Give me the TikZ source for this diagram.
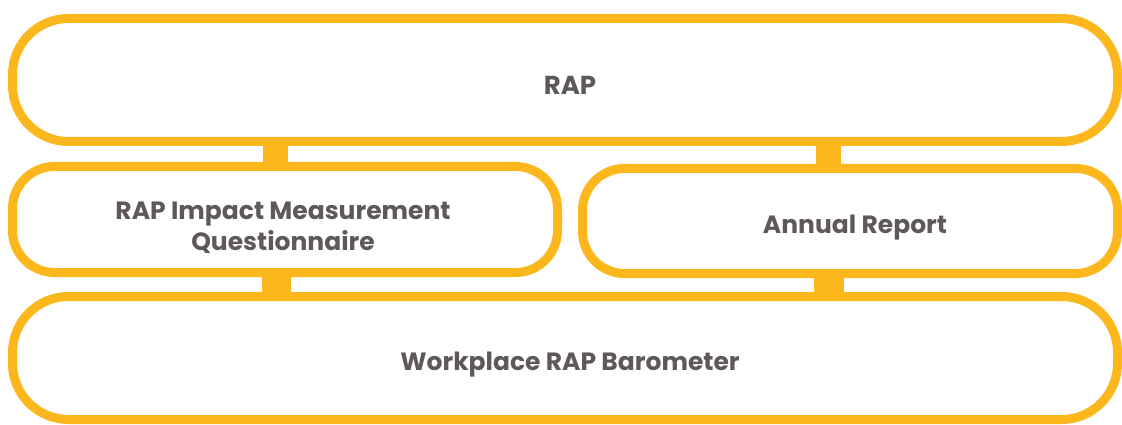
\documentclass[tikz,border=0pt]{standalone}
\usepackage{fontspec}
\newfontfamily\pop{Poppins}
\definecolor{ylw}{HTML}{FCB71D}
\definecolor{txt}{HTML}{5F5859}
\begin{document}
\begin{tikzpicture}[x=1pt,y=-1pt,
  box/.style={draw=ylw, line width=9pt, fill=white, rectangle, inner sep=0pt},
  lbl/.style={text=txt, font=\pop\bfseries\fontsize{25}{31}\selectfont, align=center},
  conn/.style={draw=ylw, line width=25pt, line cap=butt}]
\useasboundingbox (0,0) rectangle (1122,425);
\fill[white] (0,0) rectangle (1122,425);
\node[box, rounded corners=56pt, minimum width=1105pt, minimum height=123pt] (rap) at (565,80) {};
\node[box, rounded corners=42pt, minimum width=545pt, minimum height=106pt] (q) at (285,219.5) {};
\node[box, rounded corners=42pt, minimum width=535pt, minimum height=105pt] (ar) at (850,221) {};
\node[box, rounded corners=56pt, minimum width=1105pt, minimum height=123pt] (wrb) at (565,358) {};
\coordinate (cL) at (275,0);
\coordinate (cR) at (828.5,0);
\coordinate (dL) at (276.5,0);
\coordinate (dR) at (829,0);
\draw[conn] (rap.south -| cL) -- (q.north -| cL);
\draw[conn] (rap.south -| cR) -- (ar.north -| cR);
\draw[conn, line width=29pt] (q.south -| dL) -- (wrb.north -| dL);
\draw[conn, line width=30pt] (ar.south -| dR) -- (wrb.north -| dR);
\node[lbl, font=\pop\bfseries\fontsize{26}{30}\selectfont] (t1) at (570,85) {RAP};
\node[lbl] (t2) at (283,228) {RAP Impact Measurement\\Questionnaire};
\node[lbl] (t3) at (855,228) {Annual Report};
\node[lbl] (t4) at (570,365) {Workplace RAP Barometer};
\end{tikzpicture}
\end{document}
